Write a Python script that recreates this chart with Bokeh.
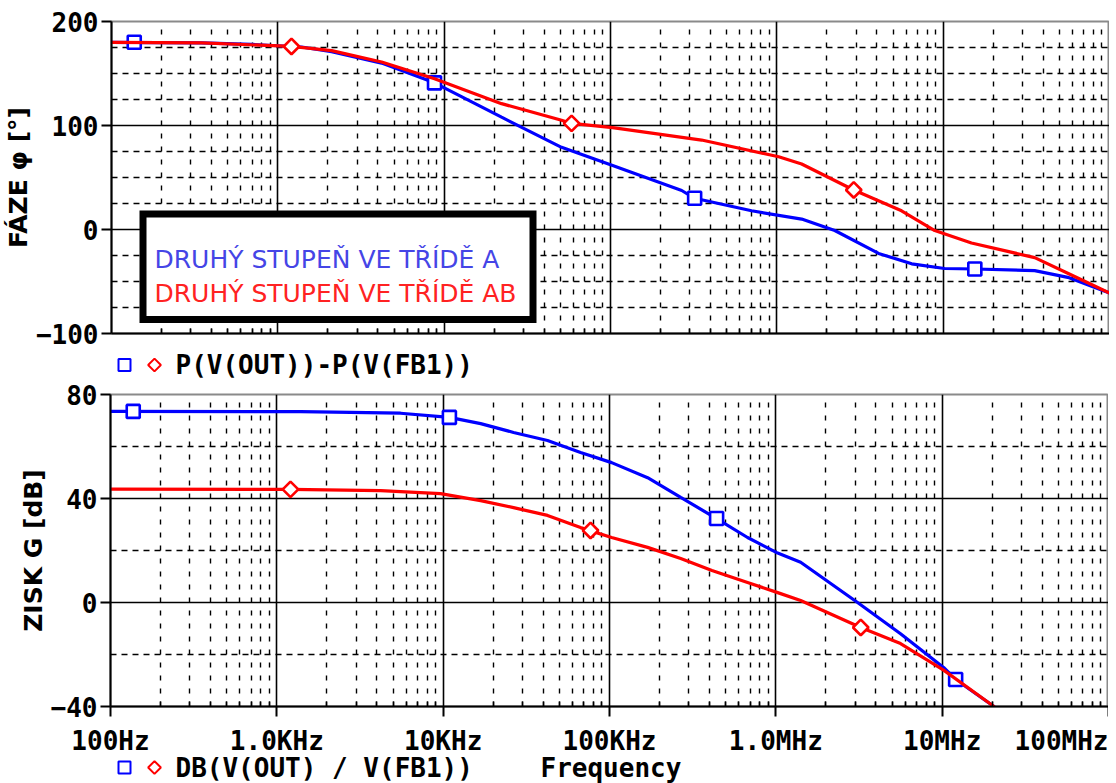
import math
from bokeh.plotting import figure
from bokeh.models import FixedTicker, Range1d, Label, BoxAnnotation
from bokeh.core.properties import value
from bokeh.layouts import column
from bokeh.embed import file_html
from bokeh.resources import INLINE

# ---------------- data ----------------
freq_ticks = [1e2, 1e3, 1e4, 1e5, 1e6, 1e7, 1e8]
freq_tick_labels = ["100Hz", "1.0KHz", "10KHz", "100KHz", "1.0MHz", "10MHz", "100MHz"]

phase_ticks = [-100, 0, 100, 200]
phase_tick_labels = ["\u2212100", "0", "100", "200"]
gain_ticks = [-40, 0, 40, 80]
gain_tick_labels = ["\u221240", "0", "40", "80"]

series_names = ["DRUHÝ STUPEŇ VE TŘÍDĚ A", "DRUHÝ STUPEŇ VE TŘÍDĚ AB"]
phase_expr = "P(V(OUT))-P(V(FB1))"
gain_expr = "DB(V(OUT) / V(FB1))"
x_title = "Frequency"
phase_title = "FÁZE φ [°]"
gain_title = "ZISK G [dB]"

# phase, class A (blue)
phase_a_f = [100, 348, 695, 1390, 2105, 4208, 8750, 22130, 50800, 103000, 268000,
             320500, 705000, 1.41e6, 2.23e6, 4.09e6, 6.47e6, 1.02e7, 1.55e7,
             3.55e7, 5.61e7, 1e8]
phase_a = [180, 179.5, 178, 175.5, 171, 160, 141, 108, 79, 61.5, 37.5,
           30, 18, 10, -1, -23, -33, -37.5, -38, -39.5, -46, -61]
phase_a_mark_f = [137, 8750, 320500, 1.55e7]
phase_a_mark = [180, 141, 30, -38]

# phase, class AB (red)
phase_ab_f = [100, 348, 1208, 2105, 4208, 8750, 22130, 50800, 58350, 103000, 353000,
              1.026e6, 1.41e6, 2.90e6, 5.62e6, 8.9e6, 1.48e7, 3.55e7, 5.61e7, 1e8]
phase_ab = [180, 179.5, 176, 172, 161, 145, 121, 105, 102, 98, 86,
            70, 63, 38, 18, -1, -13, -27, -42, -61]
phase_ab_mark_f = [1208, 58350, 2.90e6]
phase_ab_mark = [176, 102, 38]

# gain, class A (blue)
gain_a_f = [100, 1390, 5547, 10900, 16800, 26500, 42400, 67000, 103000, 169500,
            268000, 440500, 676000, 1.026e6, 1.41e6, 3.10e6, 5.62e6, 1.02e7,
            1.205e7, 2.01e7, 2.25e7]
gain_a = [73.5, 73.4, 72.8, 71.2, 68.8, 65.4, 62.3, 57.7, 53.8, 48,
          40.4, 32.3, 25, 19, 15.5, 0, -12, -25,
          -29.6, -39.6, -42.5]
gain_a_mark_f = [137, 10900, 440500, 1.205e7]
gain_a_mark = [73.5, 71.2, 32.3, -29.6]

# gain, class AB (red)
gain_ab_f = [100, 1208, 4208, 9640, 16800, 26500, 42400, 67000, 103000, 169500,
             268000, 413000, 676000, 1.026e6, 1.41e6, 3.24e6, 5.62e6, 1.02e7,
             2.01e7, 2.25e7]
gain_ab = [43.6, 43.5, 43, 41.9, 39.2, 36.5, 33.5, 28.8, 25, 21.2,
           16.9, 12.3, 7.7, 3.8, 0.8, -9.6, -15.8, -26,
           -39.6, -42.5]
gain_ab_mark_f = [1208, 76900, 3.24e6]
gain_ab_mark = [43.5, 27.7, -9.6]

# ---------------- styling / layout ----------------
BLUE = "#0000ff"
RED = "#ff0000"
MONO = "DejaVu Sans Mono"
MONO_SIZE = "26px"
LEFT = 110          # frame left edge (px)
FRAME_W = 998
FRAME_H = 312

minor_freq = [m * 10 ** k for k in range(2, 8) for m in range(2, 10)]


def hz_at(px):
    """horizontal pixel (frame spans LEFT..LEFT+FRAME_W) -> frequency"""
    return 10 ** (2 + 6 * (px - LEFT) / FRAME_W)


def make_fig(yr, yticks, ylabels, yminor, title, border_top, border_bottom):
    p = figure(x_axis_type="log", x_range=Range1d(1e2, 1e8), y_range=Range1d(*yr),
               frame_width=FRAME_W, frame_height=FRAME_H,
               min_border_left=LEFT, min_border_right=0,
               min_border_top=border_top, min_border_bottom=border_bottom,
               output_backend="svg", toolbar_location=None)
    p.frame_align = False
    p.background_fill_color = "white"
    p.border_fill_color = "white"
    p.outline_line_color = "#8a8a8a"
    p.outline_line_width = 2

    xt = FixedTicker(ticks=freq_ticks, minor_ticks=minor_freq)
    yt = FixedTicker(ticks=yticks, minor_ticks=yminor)
    p.xaxis.ticker = xt
    p.yaxis.ticker = yt
    p.xgrid.ticker = xt
    p.ygrid.ticker = yt

    for g in (p.xgrid, p.ygrid):
        g.grid_line_color = "black"
        g.grid_line_width = 1.6
        g.minor_grid_line_color = "black"
        g.minor_grid_line_width = 1.4
    p.xgrid.minor_grid_line_dash = "5 8"
    p.ygrid.minor_grid_line_dash = "6 5"

    ya = p.yaxis[0]
    ya.axis_line_color = "black"
    ya.axis_line_width = 2
    ya.major_tick_out = 10
    ya.major_tick_in = 0
    ya.major_tick_line_width = 2
    ya.minor_tick_out = 0
    ya.minor_tick_in = 0
    ya.major_label_standoff = 3
    ya.major_label_overrides = {t: l for t, l in zip(yticks, ylabels)}
    ya.major_label_text_font = MONO
    ya.major_label_text_font_style = "bold"
    ya.major_label_text_font_size = MONO_SIZE
    ya.major_label_text_color = "black"
    ya.axis_label = title
    ya.axis_label_standoff = 0
    ya.axis_label_text_font = "DejaVu Sans"
    ya.axis_label_text_font_style = "bold"
    ya.axis_label_text_font_size = "25px"
    ya.axis_label_text_color = "black"

    xa = p.xaxis[0]
    xa.axis_line_color = "black"
    xa.axis_line_width = 2
    xa.major_label_text_font_size = "1px"
    xa.major_label_text_alpha = 0
    xa.major_label_standoff = 0
    xa.major_tick_in = 0
    xa.minor_tick_in = 5
    xa.minor_tick_out = 0
    xa.minor_tick_line_width = 1.5
    xa.major_tick_line_width = 2
    return p


def add_series(p, f, v, mf, mv, color, marker, size, angle=0.0):
    p.line(f, v, line_color=color, line_width=3.2)
    p.scatter(mf, mv, marker=marker, size=size, angle=angle, line_color=color,
              line_width=2.6, fill_color="white")


def make_strip(h):
    s = figure(x_axis_type="log", x_range=Range1d(hz_at(0), 1e8), y_range=Range1d(0, h),
               frame_width=LEFT + FRAME_W, frame_height=h,
               min_border_left=0, min_border_right=0, min_border_top=0, min_border_bottom=0,
               x_axis_location=None, y_axis_location=None,
               output_backend="svg", toolbar_location=None)
    s.frame_align = False
    s.grid.visible = False
    s.outline_line_color = None
    s.background_fill_color = "white"
    s.border_fill_color = "white"
    return s


def legend_row(s, y, expr):
    s.scatter([hz_at(124)], [y], marker="square", size=12, line_color=BLUE,
              line_width=2, fill_color="white")
    s.scatter([hz_at(154)], [y], marker="square", size=9, angle=math.pi / 4,
              line_color=RED, line_width=2, fill_color="white")
    s.text([hz_at(175)], [y], text=[expr], text_font=value(MONO), text_font_style="bold",
           text_font_size=value(MONO_SIZE), text_color="black",
           text_align="left", text_baseline="middle")


# ---------------- top: phase ----------------
phase_minor = [v for v in range(-100, 201, 25) if v % 100]
top = make_fig((-100, 200), phase_ticks, phase_tick_labels, phase_minor, phase_title, 21, 16)
top.xaxis[0].major_tick_out = 0

add_series(top, phase_a_f, phase_a, phase_a_mark_f, phase_a_mark, BLUE, "square", 13)
add_series(top, phase_ab_f, phase_ab, phase_ab_mark_f, phase_ab_mark, RED, "square", 11,
           math.pi / 4)


def phase_at(py):
    return 200 - 300 * (py - 21) / FRAME_H


box = BoxAnnotation(left=hz_at(141.5), right=hz_at(531.5), top=phase_at(213.5),
                    bottom=phase_at(319), fill_color="white", fill_alpha=1.0,
                    line_color="black", line_alpha=1.0, line_width=7, line_join="miter")
top.add_layout(box)
top.add_layout(Label(x=hz_at(153), y=phase_at(259), text=series_names[0],
                     text_color="#4545e6", text_font="DejaVu Sans", text_font_size="25px",
                     text_align="left", text_baseline="alphabetic"))
top.add_layout(Label(x=hz_at(153), y=phase_at(292.5), text=series_names[1],
                     text_color="#ff2222", text_font="DejaVu Sans", text_font_size="25px",
                     text_align="left", text_baseline="alphabetic"))

# strip under the phase plot (legend row)
strip1 = make_strip(31)
legend_row(strip1, 15.5, phase_expr)

# ---------------- bottom: gain ----------------
gain_minor = [v for v in range(-40, 81, 20) if v % 40]
bot = make_fig((-40, 80), gain_ticks, gain_tick_labels, gain_minor, gain_title, 14, 18)
bot.xaxis[0].major_tick_out = 10

add_series(bot, gain_a_f, gain_a, gain_a_mark_f, gain_a_mark, BLUE, "square", 13)
add_series(bot, gain_ab_f, gain_ab, gain_ab_mark_f, gain_ab_mark, RED, "square", 11,
           math.pi / 4)

# strip under the gain plot: frequency tick labels + legend row + x title
strip2 = make_strip(59)
aligns = ["center"] * (len(freq_ticks) - 1) + ["right"]
strip2.text(freq_ticks, [43] * len(freq_ticks), text=freq_tick_labels, text_align=aligns,
            text_baseline="middle", text_font=value(MONO), text_font_style="bold",
            text_font_size=value(MONO_SIZE), text_color="black")
legend_row(strip2, 16, gain_expr)
strip2.text([hz_at(540)], [16], text=[x_title], text_font=value(MONO), text_font_style="bold",
            text_font_size=value(MONO_SIZE), text_color="black",
            text_align="left", text_baseline="middle")

layout = column(top, strip1, bot, strip2, spacing=0)
open("out.html", "w").write(file_html(layout, INLINE))
